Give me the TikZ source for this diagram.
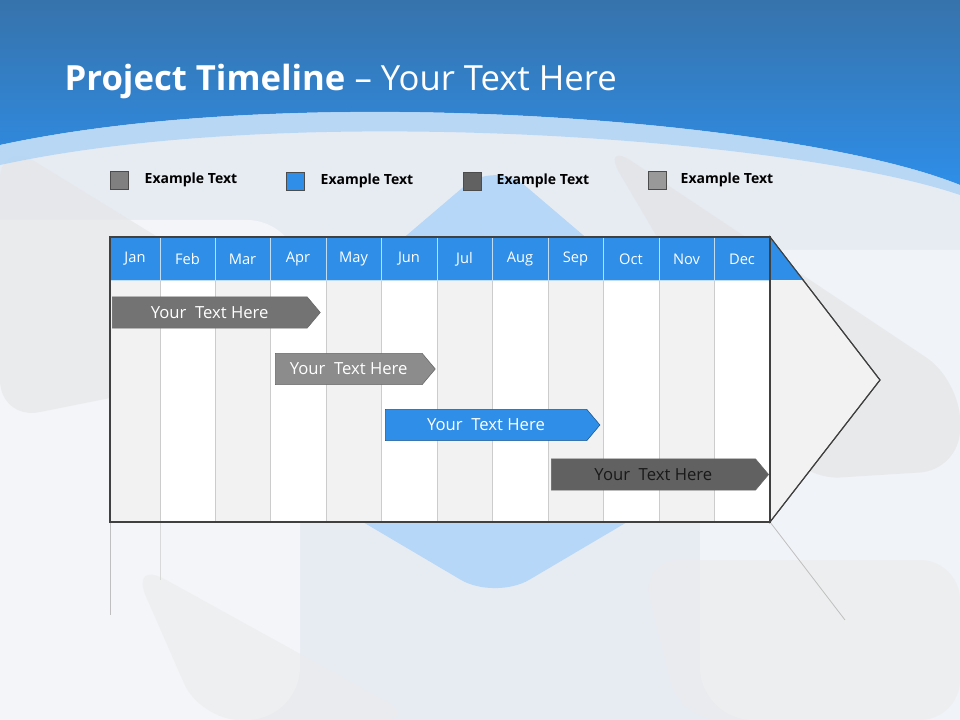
\documentclass[tikz,border=0pt]{standalone}
\usepackage{fontspec}
\setmainfont{Open Sans}
\usetikzlibrary{shapes.symbols}
\definecolor{hdr}{HTML}{2E8EE8}
\definecolor{bgc}{HTML}{E7ECF3}
\definecolor{colg}{HTML}{F2F2F2}
\tikzset{
 leg/.style={draw=black!70,minimum size=13.5pt,inner sep=0pt},
 legt/.style={font=\bfseries\fontsize{10.5}{12}\selectfont,anchor=west},
 month/.style={font=\fontsize{11}{13}\selectfont,text=white},
 bar/.style={draw=black!60,signal,signal to=east,signal pointer angle=100,minimum height=23.5pt,inner sep=0pt,font=\fontsize{12.5}{14}\selectfont,text=white,anchor=west},
 refl/.style={draw=black!25,line width=0.6pt}
}
\begin{document}
\begin{tikzpicture}[x=0.75pt,y=-0.75pt]
\useasboundingbox (0,0) rectangle (960,720);
\fill[bgc] (0,0) rectangle (960,720);
% decorative background shapes
\fill[white,opacity=0.5,rounded corners=40pt] (-60,220) rectangle (300,720);
\fill[white,opacity=0.4,rounded corners=40pt] (700,250) rectangle (1050,720);
\fill[black!10,opacity=0.6,rounded corners=30pt] (0,140) -- (260,300) -- (300,360) -- (0,420) -- cycle;
\fill[black!12,opacity=0.5,rounded corners=30pt] (600,140) -- (960,380) -- (960,470) -- (800,480) -- cycle;
\fill[black!8,opacity=0.6,rounded corners=30pt] (130,560) -- (420,720) -- (200,720) -- cycle;
\fill[black!8,opacity=0.6,rounded corners=30pt] (640,560) -- (960,560) -- (960,720) -- (680,720) -- cycle;
\fill[hdr!35,rounded corners=30pt] (495,160) -- (800,420) -- (495,600) -- (190,420) -- cycle;
% header
\shade[top color=hdr!70!black!90,bottom color=hdr] (0,0) -- (960,0) -- (960,185) .. controls (800,120) and (300,80) .. (0,145) -- cycle;
\fill[hdr!40,opacity=0.8] (0,145) .. controls (300,80) and (800,120) .. (960,185) -- (960,195) .. controls (800,140) and (300,100) .. (0,165) -- cycle;
\node[anchor=west,text=white,font=\fontsize{26}{31}\selectfont] (title) at (60,81) {\textbf{Project Timeline} – Your Text Here};
% legend
\node[leg,fill=black!50] (l1) at (119,180) {};
\node[legt] (t1) at (140,180) {Example Text};
\node[leg,fill=hdr] (l2) at (295,181) {};
\node[legt] (t2) at (316,181) {Example Text};
\node[leg,fill=black!62] (l3) at (472,181) {};
\node[legt] (t3) at (492,181) {Example Text};
\node[leg,fill=black!40] (l4) at (657,180) {};
\node[legt] (t4) at (676,180) {Example Text};
% reflections
\draw[refl] (110,522) -- (110,615);
\draw[refl] (770,522) -- (845,620);
\draw[refl,black!15] (160,522) -- (160,580);
% arrow head
\filldraw[fill=colg,draw=black!75,line width=0.8pt] (770,237) -- (880,380) -- (770,522) -- cycle;
\fill[hdr] (770.5,238) -- (804,280) -- (770.5,280) -- cycle;
% columns
\foreach \a/\b/\m [count=\i] in {110/160/Jan,160/215/Feb,215/270/Mar,270/326/Apr,326/381/May,381/437/Jun,437/492/Jul,492/548/Aug,548/603/Sep,603/659/Oct,659/714/Nov,714/770/Dec}{
  \pgfmathparse{mod(\i,2)==1?"colg":"white"}
  \edef\cc{\pgfmathresult}
  \filldraw[fill=\cc,draw=black!20] (\a,280) rectangle (\b,522);
  \filldraw[fill=hdr,draw=white!70!hdr] (\a,237) rectangle (\b,280);
  \node[month] (m\i) at ({(\a+\b)/2},259) {\m};
}
\draw[black!75,line width=0.8pt] (110,237) rectangle (770,522);
\draw[black!75,line width=0.8pt] (770,237) -- (880,380) -- (770,522);
% bars
\node[bar,fill=black!55,minimum width=156pt] (b1) at (112,312.5) {Your\ \ Text Here};
\node[bar,fill=black!45,minimum width=120pt] (b2) at (275,369) {Your\ \ Text Here};
\node[bar,fill=hdr,draw=hdr!60!black,minimum width=161pt] (b3) at (385,425) {Your\ \ Text Here};
\node[bar,fill=black!62,text=black!90,minimum width=163pt] (b4) at (551,474.5) {Your\ \ Text Here};
\end{tikzpicture}
\end{document}
